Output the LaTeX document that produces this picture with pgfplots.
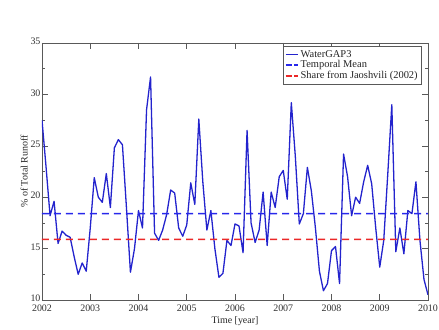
\documentclass[border=0pt]{standalone}
\usepackage{fontspec}
\setmainfont{Liberation Serif}
\usepackage{pgfplots}
\pgfplotsset{compat=1.18}
\definecolor{wgblue}{RGB}{35,35,205}
\definecolor{meanblue}{RGB}{40,40,235}
\definecolor{jred}{RGB}{235,40,40}
\begin{document}
\begin{tikzpicture}
\useasboundingbox (-42bp,-30bp) rectangle (397bp,300bp);
\begin{axis}[
  scale only axis,
  width=386bp, height=257bp,
  at={(0,0)}, anchor=south west,
  xmin=2002, xmax=2010, ymin=10, ymax=35,
  xtick={2002,2003,...,2010},
  ytick={10,15,...,35},
  minor x tick num=1,
  minor y tick num=1,
  tick align=inside,
  major tick length=6bp, minor tick length=3.5bp,
  tick style={black!65, line width=0.6pt},
  axis line style={black!65, line width=0.7pt},
  /pgf/number format/1000 sep={},
  /pgf/number format/assume math mode=true,
  tick label style={font=\fontsize{10}{11}\selectfont, text=black!80},
  xticklabel style={yshift=-1bp},
  yticklabel style={xshift=2bp, yshift=1.5bp},
  xlabel={Time [year]},
  ylabel={\% of Total Runoff},
  label style={font=\fontsize{10}{11}\selectfont, text=black!85},
  xlabel style={yshift=1bp},
  ylabel style={yshift=-4bp},
  legend style={at={(1,1)}, anchor=north east, xshift=-6bp, yshift=-3bp,
    font=\fontsize{10.5}{12}\selectfont, draw=black!65, line width=0.6pt,
    row sep=-2pt, inner sep=2pt, text=black!85},
  legend cell align=left,
]
\addplot[mark=none, draw=wgblue, line width=1.3pt, line join=round,
  legend image code/.code={\draw[wgblue, line width=1.3pt] (0bp,0bp) -- (12bp,0bp);}] coordinates {
(2002.000,27.5) (2002.083,23.0) (2002.167,18.2) (2002.250,19.6) (2002.333,15.5) (2002.417,16.7)
(2002.500,16.3) (2002.583,16.1) (2002.667,14.2) (2002.750,12.5) (2002.833,13.6) (2002.917,12.8)
(2003.000,17.0) (2003.083,21.9) (2003.167,20.0) (2003.250,19.5) (2003.333,22.3) (2003.417,19.0)
(2003.500,24.8) (2003.583,25.6) (2003.667,25.1) (2003.750,19.0) (2003.833,12.7) (2003.917,15.0)
(2004.000,18.7) (2004.083,17.0) (2004.167,28.5) (2004.250,31.7) (2004.333,16.5) (2004.417,15.8)
(2004.500,16.8) (2004.583,18.3) (2004.667,20.7) (2004.750,20.4) (2004.833,17.0) (2004.917,16.2)
(2005.000,17.3) (2005.083,21.4) (2005.167,19.3) (2005.250,27.6) (2005.333,21.5) (2005.417,16.8)
(2005.500,18.7) (2005.583,15.0) (2005.667,12.2) (2005.750,12.6) (2005.833,15.8) (2005.917,15.3)
(2006.000,17.4) (2006.083,17.2) (2006.167,14.6) (2006.250,26.5) (2006.333,17.5) (2006.417,15.6)
(2006.500,16.8) (2006.583,20.5) (2006.667,15.3) (2006.750,20.5) (2006.833,19.0) (2006.917,22.0)
(2007.000,22.6) (2007.083,19.8) (2007.167,29.2) (2007.250,24.0) (2007.333,17.4) (2007.417,18.4)
(2007.500,22.9) (2007.583,20.6) (2007.667,17.0) (2007.750,12.8) (2007.833,10.9) (2007.917,11.6)
(2008.000,14.8) (2008.083,15.2) (2008.167,11.6) (2008.250,24.2) (2008.333,22.0) (2008.417,18.2)
(2008.500,20.0) (2008.583,19.4) (2008.667,21.5) (2008.750,23.1) (2008.833,21.3) (2008.917,17.0)
(2009.000,13.2) (2009.083,15.8) (2009.167,22.3) (2009.250,29.0) (2009.333,14.7) (2009.417,17.0)
(2009.500,14.5) (2009.583,18.7) (2009.667,18.4) (2009.750,21.5) (2009.833,15.8) (2009.917,12.0)
(2010.000,10.5)
};
\addlegendentry{WaterGAP3}
\addplot[draw=meanblue, line width=1.5pt, dash pattern=on 7bp off 5bp,
  legend image code/.code={\draw[meanblue, line width=1.5pt] (0bp,0bp) -- (6.5bp,0bp) (8.5bp,0bp) -- (12bp,0bp);}] coordinates {(2002,18.4) (2010,18.402)};
\addlegendentry{Temporal Mean}
\addplot[draw=jred, line width=1.5pt, dash pattern=on 7bp off 5bp,
  legend image code/.code={\draw[jred, line width=1.5pt] (0bp,0bp) -- (6.5bp,0bp) (8.5bp,0bp) -- (12bp,0bp);}] coordinates {(2002,15.9) (2010,15.902)};
\addlegendentry{Share from Jaoshvili (2002)}
\node[font=\fontsize{15}{17}\selectfont, text=black!85] at (rel axis cs:0.5,1) [yshift=28bp] {Dnieper + Dniester + Bug Runoff};
\end{axis}
\end{tikzpicture}
\end{document}
